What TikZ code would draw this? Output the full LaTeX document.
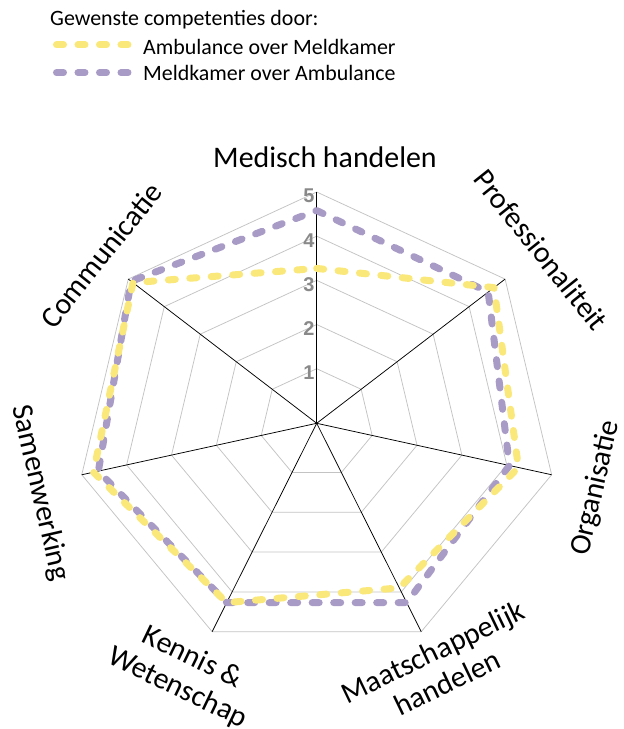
\documentclass[tikz,border=0pt]{standalone}
\usepackage{fontspec}
\setmainfont{Carlito}
\newfontfamily\tickfont{Liberation Sans}
\usepackage{tikz}
\definecolor{ambuyellow}{RGB}{250,232,122}
\definecolor{meldpurple}{RGB}{168,155,198}
\definecolor{ringgray}{RGB}{195,195,195}
\definecolor{tickgray}{RGB}{137,137,137}

\begin{document}
\begin{tikzpicture}[x=1bp,y=1bp,
    series/.style={line width=7bp, dash pattern=on 7bp off 14.5bp, line cap=round, line join=round},
    axislabel/.style={inner sep=0pt, font=\fontsize{30}{34}\selectfont},
    legendtext/.style={anchor=base west, inner sep=0pt, font=\fontsize{22}{26}\selectfont}]
  \useasboundingbox (-316.7,-305.7) rectangle (307.3,423.3);
  \begin{scope}[x=241bp,y=231.3bp]
    \coordinate (hub) at (0,0);
    % rings 1..5
    \foreach \lvl in {1,...,5} {
      \pgfmathsetmacro{\f}{0.236+(\lvl-1)*0.191}
      \draw[ringgray, line width=0.75bp] (90:\f) \foreach \k in {1,...,6} { -- ({90-\k*360/7}:\f) } -- cycle;
    }
    % spokes
    \foreach \k in {0,...,6} {
      \coordinate (ax\k) at ({90-\k*360/7}:1);
      \draw[black, line width=0.75bp] (hub) -- (ax\k);
    }
    % data points
    \foreach \v [count=\k from 0] in {4.58,4.53,4.06,4.27,4.27,4.63,4.92}
      \coordinate (meld\k) at ({90-\k*360/7}:{(\v+0.235)/5.235});
    \foreach \v [count=\k from 0] in {3.27,4.69,4.26,3.9,4.27,4.74,4.87}
      \coordinate (amb\k) at ({90-\k*360/7}:{(\v+0.235)/5.235});
    \draw[series, meldpurple] (meld0) -- (meld1) -- (meld2) -- (meld3) -- (meld4) -- (meld5) -- (meld6) -- cycle;
    \draw[series, ambuyellow] (amb0) -- (amb1) -- (amb2) -- (amb3) -- (amb4) -- (amb5) -- (amb6) -- cycle;
  \end{scope}
  \foreach \lvl in {1,...,5} {
    \pgfmathsetmacro{\ty}{231.3*(0.236+(\lvl-1)*0.191)-4}
    \node[anchor=east, inner sep=0pt, tickgray, font=\tickfont\bfseries\fontsize{20}{24}\selectfont] (tick\lvl) at (-2,\ty) {\lvl};
  }
  % axis labels
  \node[axislabel] (lblmed) at (8.3,266.3) {Medisch handelen};
  \node[axislabel, rotate=-51.43] (lblprof) at (224.3,173.3) {Professionaliteit};
  \node[axislabel, rotate=77.14] (lblorg) at (279.3,-64.7) {Organisatie};
  \node[axislabel, rotate=25.71, align=center] (lblmaat) at (123.3,-243.7) {Maatschappelijk\\handelen};
  \node[axislabel, rotate=-25.71, align=center] (lblken) at (-131.7,-249.7) {Kennis \&\\Wetenschap};
  \node[axislabel, rotate=-77.14] (lblsam) at (-276.7,-69.7) {Samenwerking};
  \node[axislabel, rotate=51.43] (lblcom) at (-215.7,168.3) {Communicatie};
  % legend
  \node[legendtext] (legtitle) at (-266.7,397.4) {Gewenste competenties door:};
  \coordinate (ambA) at (-260.2,378.3);
  \coordinate (ambB) at (-185.2,378.3);
  \draw[series, ambuyellow] (ambA) -- (ambB);
  \node[legendtext] (legamb) at (-173.7,369.1) {Ambulance over Meldkamer};
  \coordinate (meldA) at (-260.2,350.6);
  \coordinate (meldB) at (-185.2,350.6);
  \draw[series, meldpurple] (meldA) -- (meldB);
  \node[legendtext] (legmeld) at (-173.7,342.4) {Meldkamer over Ambulance};
\end{tikzpicture}
\end{document}
